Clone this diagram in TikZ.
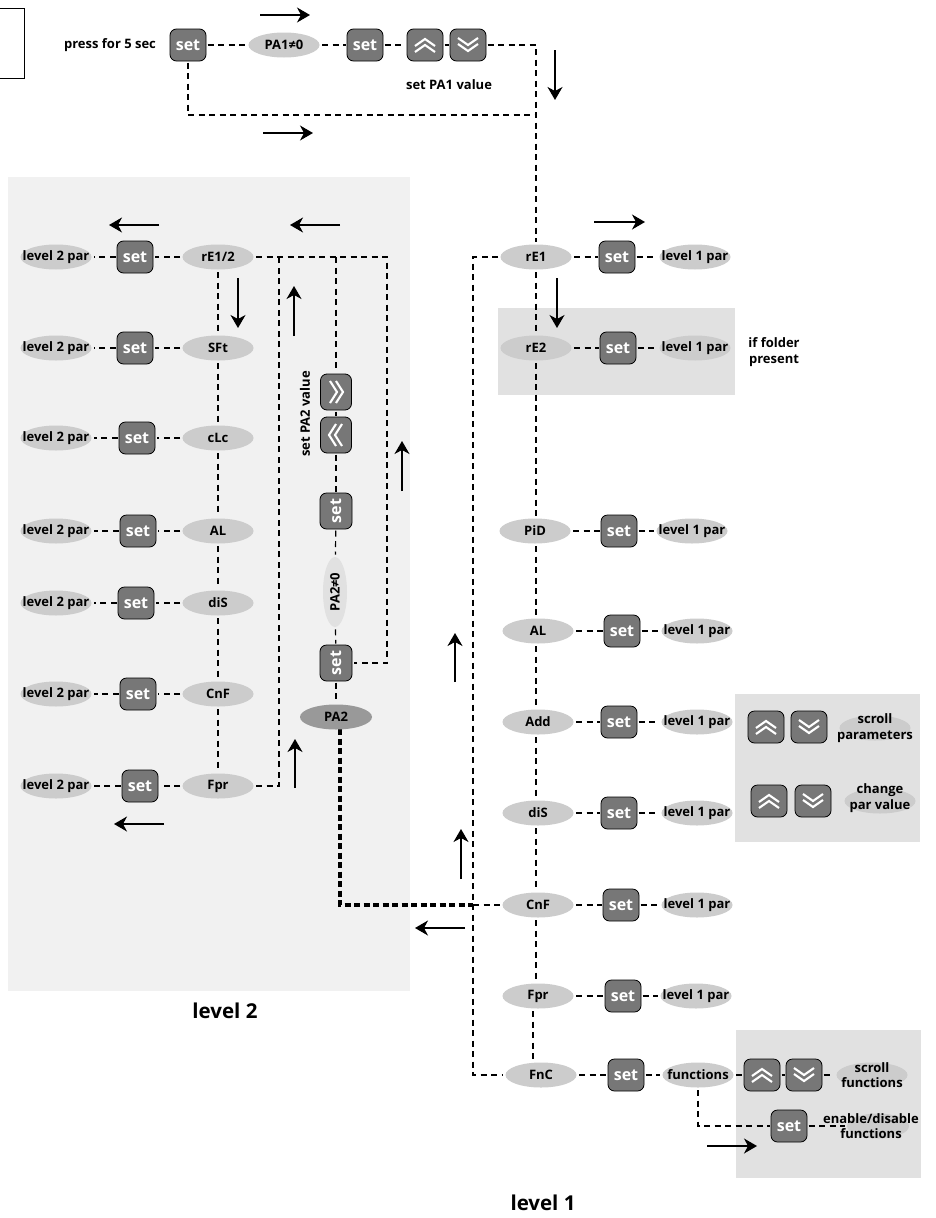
\documentclass[tikz,border=0pt]{standalone}
\usepackage{fontspec}
\setmainfont{Open Sans}
\usetikzlibrary{shapes.geometric,arrows.meta,calc}
\pgfdeclarelayer{panels}
\pgfdeclarelayer{conn}
\pgfsetlayers{panels,conn,main}
\definecolor{elgrey}{HTML}{CCCCCC}
\definecolor{pa2grey}{HTML}{999999}
\definecolor{btn}{HTML}{777777}
\definecolor{panelA}{HTML}{F1F1F1}
\definecolor{panelB}{HTML}{E1E1E1}
\newcommand{\flowarrow}[3]{%
  \coordinate (#1s) at (#2); \coordinate (#1e) at (#3);
  \draw[flow] (#1s) -- (#1e);}
\tikzset{
  lab/.style={font=\fontsize{13}{15.5}\selectfont\bfseries,text=black,inner sep=0pt,align=center},
  el/.style={ellipse,fill=elgrey,draw=none,minimum width=71,minimum height=25,inner sep=0pt,outer sep=2.5pt},
  btnbase/.style={rectangle,rounded corners=6.5,draw=black,line width=.8,fill=btn,minimum width=36,minimum height=32,inner sep=0pt,outer sep=1.5pt},
  setbtn/.style={btnbase,text=white,font=\fontsize{16}{17}\selectfont\bfseries},
  cw/.style={white,line width=2.1,sharp corners,line join=miter},
  chevU/.style={btnbase,path picture={
     \draw[cw] ($(path picture bounding box.center)+(-10,1)$)--++(10,-7)--++(10,7);
     \draw[cw] ($(path picture bounding box.center)+(-10,7)$)--++(10,-7)--++(10,7);}},
  chevD/.style={btnbase,path picture={
     \draw[cw] ($(path picture bounding box.center)+(-10,-1)$)--++(10,7)--++(10,-7);
     \draw[cw] ($(path picture bounding box.center)+(-10,-7)$)--++(10,7)--++(10,-7);}},
  chevR/.style={btnbase,minimum width=31,minimum height=36,path picture={
     \draw[cw] ($(path picture bounding box.center)+(-6,-11)$)--++(7,11)--++(-7,11);
     \draw[cw] ($(path picture bounding box.center)+(0,-11)$)--++(7,11)--++(-7,11);}},
  chevL/.style={btnbase,minimum width=31,minimum height=36,path picture={
     \draw[cw] ($(path picture bounding box.center)+(6,-11)$)--++(-7,11)--++(7,11);
     \draw[cw] ($(path picture bounding box.center)+(0,-11)$)--++(-7,11)--++(7,11);}},
  conn/.style={draw=black,line width=1.2,dash pattern=on 6 off 4.5},
  connthick/.style={draw=black,line width=3.2,dash pattern=on 6 off 3.5,line cap=butt},
  flow/.style={draw=black,line width=1.3,-{Stealth[length=13,width=15,inset=4]}},
}
\newcommand{\elnode}[4]{\node[el,label={[lab]center:#4}] (#1) at (#2,#3) {};}
\begin{document}
\begin{tikzpicture}[x=1pt,y=-1pt]
\useasboundingbox (0,0) rectangle (935,1218);
\begin{pgfonlayer}{panels}
  \fill[white] (0,0) rectangle (935,1218);
  \fill[panelA] (8,177) rectangle (410,991);
  \fill[panelB] (498,308) rectangle (735,395);
  \fill[panelB] (735,694) rectangle (920,842);
  \fill[panelB] (736,1030) rectangle (921,1178);
\end{pgfonlayer}
% corner box
\coordinate (bxa) at (0,8); \coordinate (bxb) at (24,78); \coordinate (bxc) at (0,78);
\draw[line width=.9] (bxa) -| (bxb) -- (bxc);
% top row
\node[lab] (press) at (110,45) {press for 5 sec};
\node[setbtn] (s0) at (188,45) {set};
\elnode{pa1}{284}{45}{PA1≠0}
\node[setbtn] (s1) at (365,45) {set};
\node[chevU] (u0) at (425,45) {};
\node[chevD] (d0) at (468,45) {};
\node[lab] (pa1val) at (449,85) {set PA1 value};
% level 1 column
\foreach \n/\t/\cx/\y/\sx/\px in {rE1/rE1/536/257/617/695, rE2/rE2/536/348/618/695, PiD/PiD/535/531/619/692, ALa/AL/538/631/622/697, Add/Add/538/722/619/697, diSa/diS/538/813/619/697, CnFa/CnF/538/905/621/697, Fpra/Fpr/538/996/623/696}{
  \elnode{\n}{\cx}{\y}{\t}
  \node[setbtn] (s\n) at (\sx,\y) {set};
  \elnode{p\n}{\px}{\y}{level 1 par}
}
\elnode{FnC}{541}{1075}{FnC}
\node[setbtn] (sFnC) at (626,1075) {set};
\elnode{fun}{698}{1075}{functions}
\node[chevU] (uf) at (762,1075) {};
\node[chevD] (df) at (804,1075) {};
\node[el,label={[lab]center:scroll\\functions}] (sfun) at (872,1075) {};
\node[setbtn] (sen) at (789,1126) {set};
\node[el,minimum width=62,label={[lab,xshift=-7]center:enable/disable\\functions}] (en) at (878,1126) {};
\node[lab] (iff) at (774,352) {if folder\\present};
% add / dis panel
\node[chevU] (up) at (766,727) {};
\node[chevD] (dp) at (809,727) {};
\node[el,label={[lab]center:scroll\\parameters}] (sp) at (875,728) {};
\node[chevU] (uc) at (769,801) {};
\node[chevD] (dc) at (813,801) {};
\node[el,label={[lab,yshift=3]center:change\\par value}] (cp) at (880,801) {};
% level 2 column
\foreach \n/\t/\y/\sx in {rr/rE1\slash 2/257/135, SFt/SFt/348/135, cLc/cLc/438/137, ALb/AL/531/138, diSb/diS/603/136, CnFb/CnF/694/138, Fprb/Fpr/786/140}{
  \elnode{\n}{218}{\y}{\t}
  \node[setbtn] (s\n) at (\sx,\y) {set};
  \elnode{p\n}{56}{\y}{level 2 par}
}
% PA2 column
\node[chevR] (rb) at (336,392) {};
\node[chevL] (lb) at (336,435) {};
\node[setbtn,rotate=90] (sa) at (336,511) {set};
\node[el,rotate=90,minimum width=70,minimum height=24,fill=panelB,label={[lab,rotate=90]center:PA2≠0}] (pa2n) at (335,592) {};
\node[setbtn,rotate=90] (sb) at (336,663) {set};
\node[el,fill=pa2grey,minimum width=72,label={[lab]center:PA2}] (pa2) at (336,717) {};
\node[lab,rotate=90] (pa2val) at (305,414) {set PA2 value};
% level titles
\node[lab,font=\fontsize{20.5}{23}\selectfont\bfseries] (lv2) at (225,1011) {level 2};
\node[lab,font=\fontsize{20.5}{23}\selectfont\bfseries] (lv1) at (543,1203) {level 1};
% helper coordinates
\coordinate (jr) at (536,115);
\coordinate (vl) at (473,257);
\coordinate (c279) at (279,257);
\coordinate (c336) at (336,257);
\coordinate (c387) at (387,257);
\coordinate (tk) at (340,729);
\coordinate (vr) at (536,0);
\coordinate (vs) at (533,0);
% connectors
\begin{pgfonlayer}{conn}
  \draw[conn] (s0) -- (pa1);
  \draw[conn] (pa1) -- (s1);
  \draw[conn] (s1) -- (u0);
  \draw[conn] (u0) -- (d0);
  \draw[conn] (d0) -| (vr |- rE1.north);
  \draw[conn] (s0) |- (jr);
  \foreach \n in {rE1,rE2,PiD,ALa,Add,diSa,CnFa,Fpra}{
    \draw[conn] (\n) -- (s\n);
    \draw[conn] (s\n) -- (p\n);
  }
  \foreach \a/\b in {rE1/rE2,rE2/PiD,PiD/ALa,ALa/Add,Add/diSa,diSa/CnFa,CnFa/Fpra}{
    \draw[conn] (vr |- \a.south) -- (vr |- \b.north);
  }
  \draw[conn] (vs |- Fpra.south) -- (vs |- FnC.north);
  \draw[conn] (rE1) -- (vl) -- (vl |- FnC) -- (FnC);
  \draw[conn] (vl |- CnFa) -- (CnFa);
  \draw[connthick] (tk) |- (vl |- CnFa);
  \draw[conn] (FnC) -- (sFnC);
  \draw[conn] (sFnC) -- (fun);
  \draw[conn] (fun) -- (uf);
  \draw[conn] (uf) -- (df);
  \draw[conn] (df) -- (sfun);
  \draw[conn] (fun) |- (sen);
  \draw[conn] (sen) -- (en);
  \foreach \n in {rr,SFt,cLc,ALb,diSb,CnFb,Fprb}{
    \draw[conn] (\n) -- (s\n);
    \draw[conn] (s\n) -- (p\n);
  }
  \foreach \a/\b in {rr/SFt,SFt/cLc,cLc/ALb,ALb/diSb,diSb/CnFb,CnFb/Fprb}{
    \draw[conn] (\a) -- (\b);
  }
  \draw[conn] (rr) -- (c387) -- (c387 |- sb) -- (sb);
  \draw[conn] (Fprb) -| (c279);
  \draw[conn] (c336) -- (rb);
  \draw[conn] (rb) -- (lb);
  \draw[conn] (lb) -- (sa);
  \draw[conn] (sa) -- (pa2n);
  \draw[conn] (pa2n) -- (sb);
  \draw[conn] (sb) -- (pa2);
\end{pgfonlayer}
% flow arrows
\flowarrow{fa}{260,15}{310,15}
\flowarrow{fb}{263,133}{313,133}
\flowarrow{fc}{555,50}{555,100}
\flowarrow{fd}{159,225}{109,225}
\flowarrow{fe}{340,225}{290,225}
\flowarrow{ff}{238,278}{238,328}
\flowarrow{fg}{294,336}{294,286}
\flowarrow{fh}{402,491}{402,441}
\flowarrow{fi}{295,788}{295,739}
\flowarrow{fj}{164,824}{114,824}
\flowarrow{fk}{461,879}{461,829}
\flowarrow{fl}{465,928}{415,928}
\flowarrow{fm}{455,682}{455,633}
\flowarrow{fn}{594,222}{645,222}
\flowarrow{fo}{557,278}{557,328}
\flowarrow{fp}{707,1146}{757,1146}
\end{tikzpicture}
\end{document}
